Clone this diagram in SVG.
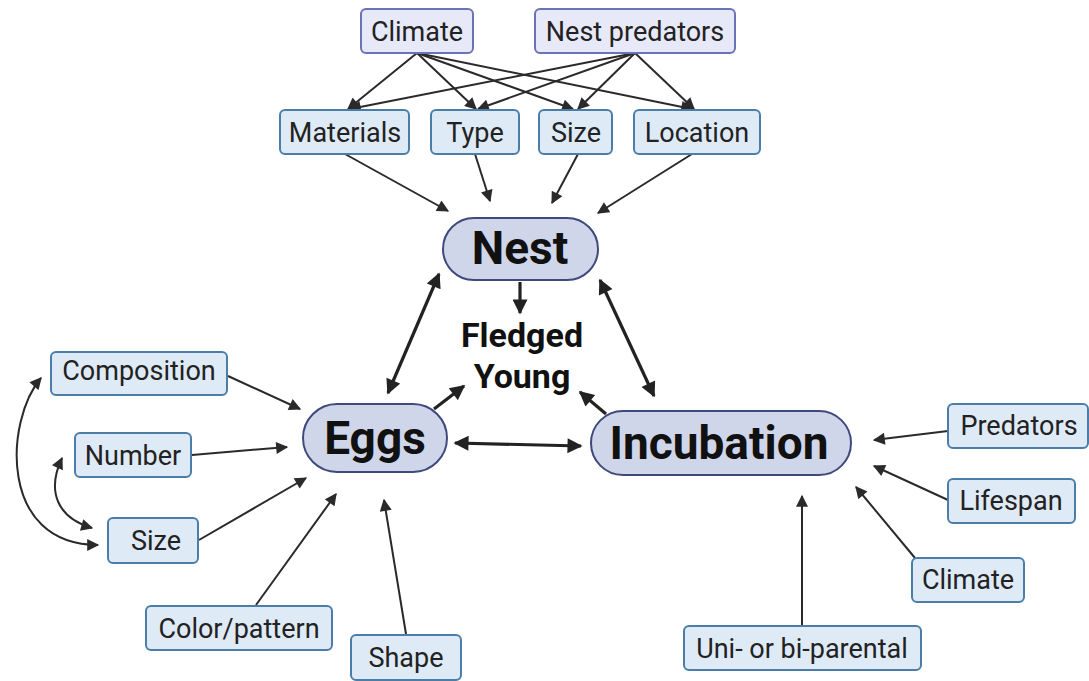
<svg xmlns="http://www.w3.org/2000/svg" width="1089" height="681" viewBox="0 0 1089 681">
<defs>
<style>
.f{fill:#dfeaf7;stroke:#4a7da8;stroke-width:2}
.t{fill:#e7e9f8;stroke:#6a72b8;stroke-width:2}
.big{fill:#cfd6ea;stroke:#3e4a7c;stroke-width:2}
.lb{font-family:Roboto,"Liberation Sans",sans-serif;font-size:27px;fill:#222;text-anchor:middle}
.bl{font-family:Roboto,"Liberation Sans",sans-serif;font-weight:bold;font-size:46px;fill:#111;text-anchor:middle}
.fy{font-family:Roboto,"Liberation Sans",sans-serif;font-weight:bold;font-size:34px;fill:#111;text-anchor:middle}
.c{stroke:#2a2a2a;stroke-width:2;fill:none;marker-end:url(#ah)}
.c2{stroke:#2a2a2a;stroke-width:2;fill:none;marker-end:url(#ah);marker-start:url(#ah)}
.k{stroke:#222;stroke-width:3.2;fill:none;marker-end:url(#ak)}
.k2{stroke:#222;stroke-width:3.2;fill:none;marker-end:url(#ak);marker-start:url(#ak)}
</style>
<marker id="ah" viewBox="0 0 10 10" refX="9" refY="5" markerWidth="13" markerHeight="12" markerUnits="userSpaceOnUse" orient="auto-start-reverse"><path d="M0,0 L10,5 L0,10 z" fill="#2a2a2a"/></marker>
<marker id="ak" viewBox="0 0 10 10" refX="9" refY="5" markerWidth="17" markerHeight="15" markerUnits="userSpaceOnUse" orient="auto-start-reverse"><path d="M0,0 L10,5 L0,10 z" fill="#222"/></marker>
</defs>
<rect width="1089" height="681" fill="#fff"/>
<g id="connectors">
<line class="c" x1="417" y1="53" x2="348" y2="109"/>
<line class="c" x1="417" y1="53" x2="476" y2="109"/>
<line class="c" x1="417" y1="53" x2="573" y2="109"/>
<line class="c" x1="417" y1="53" x2="692" y2="109"/>
<line class="c" x1="635" y1="53" x2="350" y2="109"/>
<line class="c" x1="635" y1="53" x2="478" y2="109"/>
<line class="c" x1="635" y1="53" x2="578" y2="109"/>
<line class="c" x1="635" y1="53" x2="694" y2="109"/>
<line class="c" x1="345" y1="154" x2="448" y2="211"/>
<line class="c" x1="475" y1="154" x2="490" y2="201"/>
<line class="c" x1="578" y1="154" x2="552" y2="203"/>
<line class="c" x1="692" y1="154" x2="598" y2="213"/>
<line class="k" x1="520" y1="282" x2="520" y2="313"/>
<line class="k2" x1="439" y1="274" x2="388" y2="393"/>
<line class="k2" x1="600" y1="280" x2="654" y2="396"/>
<line class="k" x1="434" y1="409" x2="464" y2="386"/>
<line class="k" x1="606" y1="414" x2="580" y2="392"/>
<line class="k2" x1="455" y1="443" x2="581" y2="446"/>
<line class="c" x1="228" y1="376" x2="300" y2="409"/>
<line class="c" x1="192" y1="455" x2="287" y2="447"/>
<line class="c" x1="199" y1="540" x2="306" y2="478"/>
<line class="c" x1="256" y1="605" x2="336" y2="494"/>
<line class="c" x1="406" y1="634" x2="384" y2="500"/>
<path class="c2" d="M41 378 C 5 420, -2 545, 98 545"/>
<path class="c2" d="M62 458 C 46 492, 58 518, 92 528"/>
<line class="c" x1="948" y1="431" x2="874" y2="440"/>
<line class="c" x1="948" y1="500" x2="874" y2="466"/>
<line class="c" x1="915" y1="558" x2="856" y2="487"/>
<line class="c" x1="802" y1="626" x2="802" y2="496"/>
</g>
<g id="climate-top"><rect class="t" x="361" y="9" width="112" height="44" rx="5"/><text class="lb" x="417" y="41">Climate</text></g>
<g id="nest-predators"><rect class="t" x="535" y="9" width="200" height="44" rx="5"/><text class="lb" x="635" y="41">Nest predators</text></g>
<g id="materials"><rect class="f" x="280" y="110" width="129" height="44" rx="5"/><text class="lb" x="345" y="142">Materials</text></g>
<g id="type"><rect class="f" x="431" y="110" width="88" height="44" rx="5"/><text class="lb" x="475" y="142">Type</text></g>
<g id="size-nest"><rect class="f" x="539" y="110" width="73" height="44" rx="5"/><text class="lb" x="576" y="142">Size</text></g>
<g id="location"><rect class="f" x="634" y="110" width="126" height="44" rx="5"/><text class="lb" x="697" y="142">Location</text></g>
<g id="nest"><rect class="big" x="443" y="218" width="155" height="62" rx="31"/><text class="bl" x="520" y="264">Nest</text></g>
<g id="fledged"><text class="fy" x="522" y="347">Fledged</text><text class="fy" x="522" y="388">Young</text></g>
<g id="eggs"><rect class="big" x="303" y="404" width="144" height="68" rx="34"/><text class="bl" x="375" y="454">Eggs</text></g>
<g id="incubation"><rect class="big" x="591" y="411" width="260" height="64" rx="32"/><text class="bl" x="719" y="459">Incubation</text></g>
<g id="composition"><rect class="f" x="51" y="352" width="176" height="43" rx="5"/><text class="lb" x="139" y="380">Composition</text></g>
<g id="number"><rect class="f" x="75" y="433" width="116" height="44" rx="5"/><text class="lb" x="133" y="465">Number</text></g>
<g id="size-eggs"><rect class="f" x="108" y="518" width="90" height="45" rx="5"/><text class="lb" x="156" y="550">Size</text></g>
<g id="color-pattern"><rect class="f" x="146" y="606" width="186" height="44" rx="5"/><text class="lb" x="239" y="638">Color/pattern</text></g>
<g id="shape"><rect class="f" x="351" y="635" width="110" height="45" rx="5"/><text class="lb" x="406" y="667">Shape</text></g>
<g id="predators"><rect class="f" x="948" y="404" width="140" height="44" rx="5"/><text class="lb" x="1019" y="435">Predators</text></g>
<g id="lifespan"><rect class="f" x="948" y="479" width="127" height="44" rx="5"/><text class="lb" x="1011" y="510">Lifespan</text></g>
<g id="climate-inc"><rect class="f" x="912" y="558" width="112" height="44" rx="5"/><text class="lb" x="968" y="589">Climate</text></g>
<g id="parental"><rect class="f" x="684" y="626" width="237" height="44" rx="5"/><text class="lb" x="802" y="658">Uni- or bi-parental</text></g>
</svg>
